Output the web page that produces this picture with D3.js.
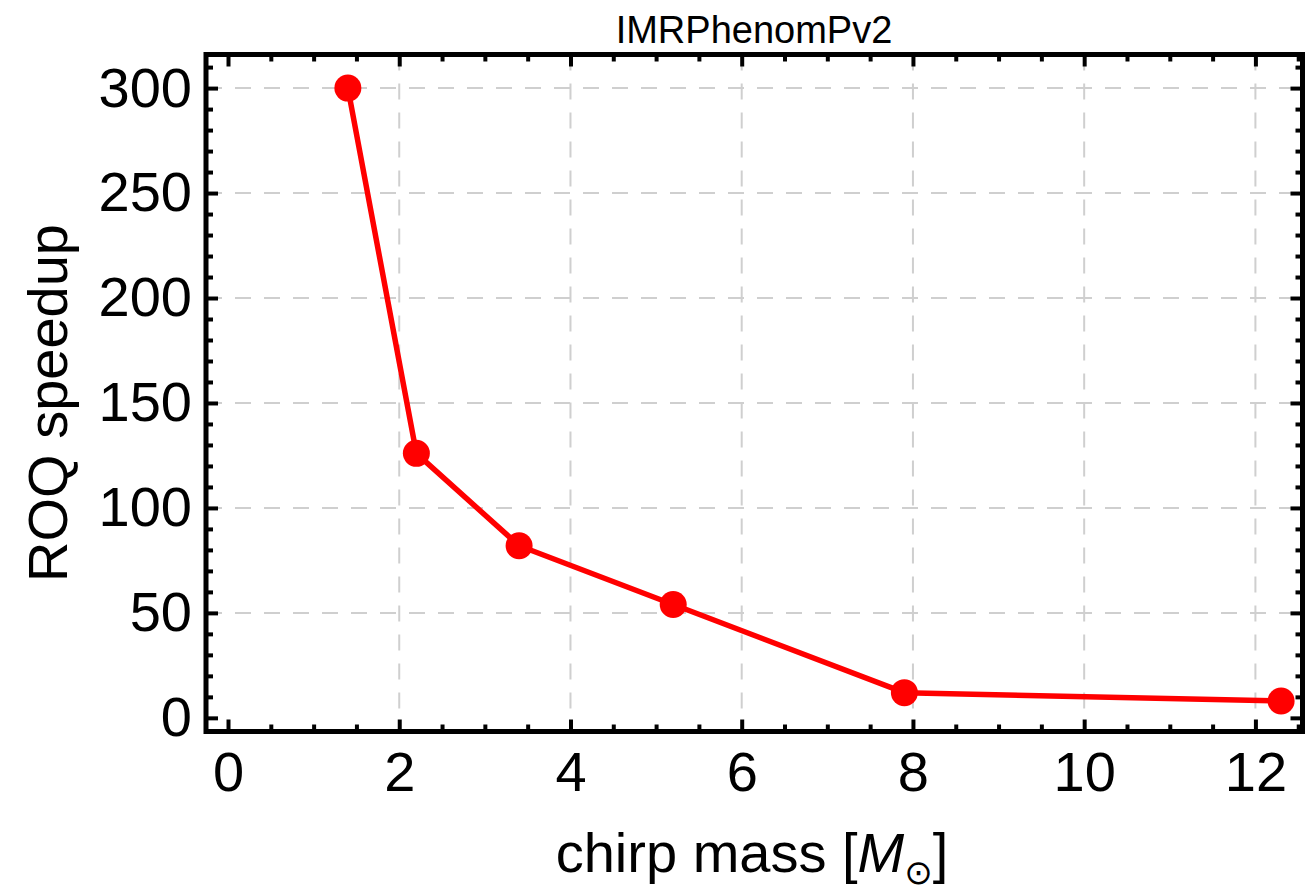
<!DOCTYPE html>
<html>
<head>
<meta charset="utf-8">
<script src="https://cdn.jsdelivr.net/npm/d3@7"></script>
<style>
  body { margin: 0; background: #fff; }
  svg text { font-family: "Liberation Sans", Arial, sans-serif; fill: #000; }
</style>
</head>
<body>
<div class="canvas"></div>
<script>
// data
const chirpMass = [1.4, 2.2, 3.4, 5.2, 7.9, 12.3];
const speedup   = [300, 126, 82, 54, 12, 8];

const xTicks = [0, 2, 4, 6, 8, 10, 12];
const yTicks = [0, 50, 100, 150, 200, 250, 300];
const xGrid = [2, 4, 6, 8, 10, 12];
const yGrid = [50, 100, 150, 200, 250, 300];

const W = 1310, H = 888;
const box = { left: 206, right: 1302.5, top: 54.5, bottom: 731.5 };

const x = d3.scaleLinear().domain([-0.257, 12.55]).range([box.left, box.right]);
const y = d3.scaleLinear().domain([-6.5, 316]).range([box.bottom, box.top]);

const xMinor = d3.range(0, 12.51, 0.5).filter(v => !xTicks.includes(v));
const yMinor = d3.range(0, 311, 10).filter(v => !yTicks.includes(v));

const svg = d3.select(".canvas").append("svg")
    .attr("width", W)
    .attr("height", H);

// gridlines
svg.append("g").selectAll("line")
    .data(xGrid).join("line")
    .attr("x1", d => x(d)).attr("x2", d => x(d))
    .attr("y1", box.top).attr("y2", box.bottom)
    .attr("stroke", "#cfcfcf").attr("stroke-width", 2)
    .attr("stroke-dasharray", "16,13");

svg.append("g").selectAll("line")
    .data(yGrid).join("line")
    .attr("x1", box.left).attr("x2", box.right)
    .attr("y1", d => y(d)).attr("y2", d => y(d))
    .attr("stroke", "#cfcfcf").attr("stroke-width", 2)
    .attr("stroke-dasharray", "16,13");

// axes, ticks pointing inward
function styleAxis(g) {
    g.select(".domain").remove();
    g.selectAll(".tick line").attr("stroke", "#000").attr("stroke-width", 4);
    g.selectAll(".tick text").style("font-size", "56px").attr("fill", "#000");
}

svg.append("g")
    .attr("transform", `translate(0,${box.bottom})`)
    .call(d3.axisBottom(x).tickValues(xTicks).tickSize(-12).tickPadding(20))
    .call(styleAxis);
svg.append("g")
    .attr("transform", `translate(0,${box.bottom})`)
    .call(d3.axisBottom(x).tickValues(xMinor).tickSize(-7).tickFormat(""))
    .call(styleAxis);
svg.append("g")
    .attr("transform", `translate(0,${box.top})`)
    .call(d3.axisTop(x).tickValues(xTicks).tickSize(-12).tickFormat(""))
    .call(styleAxis);
svg.append("g")
    .attr("transform", `translate(0,${box.top})`)
    .call(d3.axisTop(x).tickValues(xMinor).tickSize(-7).tickFormat(""))
    .call(styleAxis);

svg.append("g")
    .attr("transform", `translate(${box.left},0)`)
    .call(d3.axisLeft(y).tickValues(yTicks).tickSize(-12).tickPadding(14))
    .call(styleAxis);
svg.append("g")
    .attr("transform", `translate(${box.left},0)`)
    .call(d3.axisLeft(y).tickValues(yMinor).tickSize(-7).tickFormat(""))
    .call(styleAxis);
svg.append("g")
    .attr("transform", `translate(${box.right},0)`)
    .call(d3.axisRight(y).tickValues(yTicks).tickSize(-12).tickFormat(""))
    .call(styleAxis);
svg.append("g")
    .attr("transform", `translate(${box.right},0)`)
    .call(d3.axisRight(y).tickValues(yMinor).tickSize(-7).tickFormat(""))
    .call(styleAxis);

// frame
svg.append("rect")
    .attr("x", box.left).attr("y", box.top)
    .attr("width", box.right - box.left)
    .attr("height", box.bottom - box.top)
    .attr("fill", "none")
    .attr("stroke", "#000")
    .attr("stroke-width", 5);

// data line + markers
const pts = chirpMass.map((m, i) => ({ m: m, s: speedup[i] }));

svg.append("path")
    .datum(pts)
    .attr("fill", "none")
    .attr("stroke", "#ff0000")
    .attr("stroke-width", 5.5)
    .attr("stroke-linejoin", "round")
    .attr("d", d3.line().x(d => x(d.m)).y(d => y(d.s)));

svg.append("g").selectAll("circle")
    .data(pts).join("circle")
    .attr("cx", d => x(d.m))
    .attr("cy", d => y(d.s))
    .attr("r", 13.5)
    .attr("fill", "#ff0000");

// labels
svg.append("text")
    .attr("x", 754).attr("y", 43)
    .attr("text-anchor", "middle")
    .style("font-size", "38px")
    .text("IMRPhenomPv2");

const xl = svg.append("text")
    .attr("x", 752).attr("y", 872)
    .attr("text-anchor", "middle")
    .style("font-size", "56px");
xl.append("tspan").text("chirp mass [");
xl.append("tspan").style("font-style", "italic").text("M");
xl.append("tspan").attr("dy", 12).style("font-size", "34px")
    .style("font-family", "'DejaVu Sans', sans-serif").text("\u2299");
xl.append("tspan").attr("dy", -12).text("]");

svg.append("text")
    .attr("transform", "translate(67,403) rotate(-90)")
    .attr("text-anchor", "middle")
    .style("font-size", "56px")
    .text("ROQ speedup");
</script>
</body>
</html>
